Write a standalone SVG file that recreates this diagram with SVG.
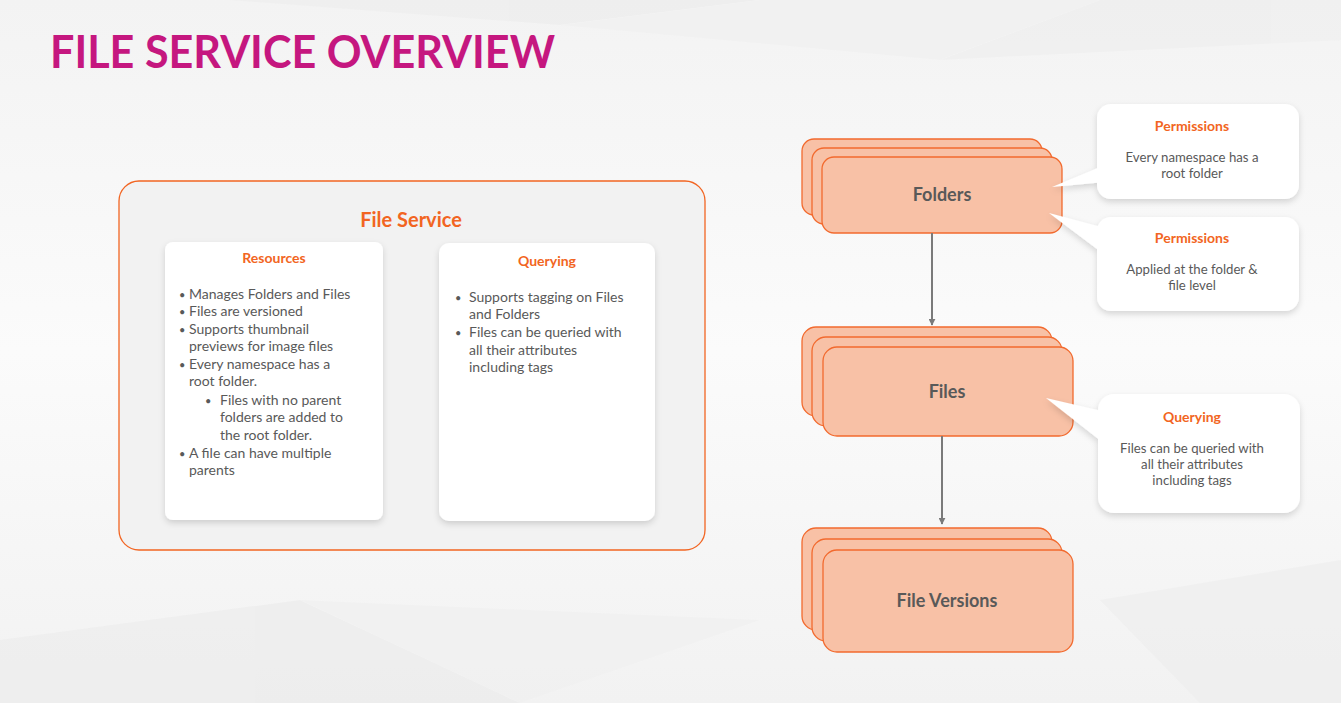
<svg xmlns="http://www.w3.org/2000/svg" width="1341" height="703" viewBox="0 0 1341 703">
<defs>
<linearGradient id="bg" x1="0" y1="0" x2="0" y2="1">
<stop offset="0" stop-color="#f3f3f3"/>
<stop offset="0.5" stop-color="#fbfbfb"/>
<stop offset="1" stop-color="#f2f2f2"/>
</linearGradient>
<filter id="sh" x="-20%" y="-20%" width="140%" height="150%">
<feDropShadow dx="0" dy="3" stdDeviation="3" flood-color="#000" flood-opacity="0.15"/>
</filter>
<marker id="arr" viewBox="0 0 10 10" refX="9" refY="5" markerWidth="3.5" markerHeight="3.5" orient="auto">
<path d="M0,0 L10,5 L0,10 z" fill="#7a7a7a"/>
</marker>
<style>
.title{font-family:Lato,"Liberation Sans",sans-serif;font-weight:bold;font-size:46px;fill:#c5177f}
.hd{font-family:Lato,"Liberation Sans",sans-serif;font-weight:bold;fill:#f26522}
.body{font-family:Lato,"Liberation Sans",sans-serif;font-size:14px;fill:#595959}
.cb{font-family:Lato,"Liberation Sans",sans-serif;font-size:13.2px;fill:#595959;text-anchor:middle}
.stk{fill:#f8c1a6;stroke:#f26a2e;stroke-width:1.3}
.lbl{font-family:Lato,"Liberation Sans",sans-serif;font-weight:bold;font-size:18px;fill:#595959;text-anchor:middle}
.card{fill:#ffffff}
.conn{stroke:#7a7a7a;stroke-width:2;fill:none}
</style>
</defs>
<rect width="1341" height="703" fill="url(#bg)"/>
<g opacity="0.6">
<polygon points="230,0 560,25 760,0" fill="#ececec"/>
<polygon points="560,25 760,0 1100,0 940,60" fill="#f0f0f0"/>
<polygon points="940,60 1100,0 1341,0 1341,40" fill="#eeeeee"/>
<polygon points="0,640 300,600 520,703 0,703" fill="#ebebeb"/>
<polygon points="300,600 760,620 520,703" fill="#f0f0f0"/>
<polygon points="1100,600 1341,560 1341,703 1200,703" fill="#ededed"/>
</g>
<text class="title" x="50" y="68" textLength="505" lengthAdjust="spacingAndGlyphs">FILE SERVICE OVERVIEW</text>

<g id="file-service">
<rect x="119" y="181" width="586" height="369" rx="20" fill="#f2f2f2" stroke="#f26522" stroke-width="1.3"/>
<text class="hd" x="411" y="227" font-size="20" text-anchor="middle">File Service</text>
</g>

<g id="resources">
<rect class="card" x="165" y="242" width="218" height="278" rx="8" filter="url(#sh)"/>
<text class="hd" x="274" y="263" font-size="14" text-anchor="middle">Resources</text>
<g class="body">
<text x="179" y="299" font-size="11">•</text><text x="189" y="299">Manages Folders and Files</text>
<text x="179" y="316" font-size="11">•</text><text x="189" y="316">Files are versioned</text>
<text x="179" y="334" font-size="11">•</text><text x="189" y="334">Supports thumbnail</text>
<text x="189" y="351">previews for image files</text>
<text x="179" y="369" font-size="11">•</text><text x="189" y="369">Every namespace has a</text>
<text x="189" y="386">root folder.</text>
<text x="205" y="405" font-size="11">•</text><text x="220" y="405">Files with no parent</text>
<text x="220" y="422">folders are added to</text>
<text x="220" y="440">the root folder.</text>
<text x="179" y="458" font-size="11">•</text><text x="189" y="458">A file can have multiple</text>
<text x="189" y="475">parents</text>
</g>
</g>

<g id="querying">
<rect class="card" x="439" y="243" width="216" height="278" rx="10" filter="url(#sh)"/>
<text class="hd" x="547" y="266" font-size="14" text-anchor="middle">Querying</text>
<g class="body">
<text x="455" y="302" font-size="11">•</text><text x="469" y="302">Supports tagging on Files</text>
<text x="469" y="319">and Folders</text>
<text x="455" y="337" font-size="11">•</text><text x="469" y="337">Files can be queried with</text>
<text x="469" y="355">all their attributes</text>
<text x="469" y="372">including tags</text>
</g>
</g>

<g id="folders">
<rect class="stk" x="802" y="139" width="240" height="76" rx="12"/>
<rect class="stk" x="812" y="148" width="240" height="76" rx="12"/>
<rect class="stk" x="822" y="157" width="240" height="76" rx="12"/>
<text class="lbl" x="942" y="201">Folders</text>
</g>

<g id="files">
<rect class="stk" x="802" y="327" width="250" height="89" rx="14"/>
<rect class="stk" x="812" y="337" width="250" height="89" rx="14"/>
<rect class="stk" x="823" y="347" width="250" height="89" rx="14"/>
<text class="lbl" x="947" y="398">Files</text>
</g>

<g id="file-versions">
<rect class="stk" x="802" y="528" width="250" height="102" rx="14"/>
<rect class="stk" x="812" y="539" width="250" height="102" rx="14"/>
<rect class="stk" x="823" y="550" width="250" height="102" rx="14"/>
<text class="lbl" x="947" y="607">File Versions</text>
</g>

<g id="connectors">
<line class="conn" x1="932" y1="233" x2="932" y2="325" marker-end="url(#arr)"/>
<line class="conn" x1="942" y1="436" x2="942" y2="524" marker-end="url(#arr)"/>
</g>

<g id="callout-permissions-1" filter="url(#sh)">
<polygon points="1052,187 1105,165 1105,182" fill="#fff"/>
<rect x="1097" y="104" width="202" height="95" rx="14" fill="#fff"/>
</g>
<g id="callout-permissions-1-text">
<text class="hd" x="1192" y="131" font-size="14" text-anchor="middle">Permissions</text>
<text class="cb" x="1192" y="162">Every namespace has a</text>
<text class="cb" x="1192" y="178">root folder</text>
</g>

<g id="callout-permissions-2" filter="url(#sh)">
<polygon points="1049,213 1105,228 1105,255" fill="#fff"/>
<rect x="1097" y="217" width="202" height="94" rx="14" fill="#fff"/>
</g>
<g id="callout-permissions-2-text">
<text class="hd" x="1192" y="243" font-size="14" text-anchor="middle">Permissions</text>
<text class="cb" x="1192" y="274">Applied at the folder &amp;</text>
<text class="cb" x="1192" y="290">file level</text>
</g>

<g id="callout-querying" filter="url(#sh)">
<polygon points="1046,398 1106,412 1106,445" fill="#fff"/>
<rect x="1098" y="394" width="202" height="119" rx="16" fill="#fff"/>
</g>
<g id="callout-querying-text">
<text class="hd" x="1192" y="422" font-size="14" text-anchor="middle">Querying</text>
<text class="cb" x="1192" y="453">Files can be queried with</text>
<text class="cb" x="1192" y="469">all their attributes</text>
<text class="cb" x="1192" y="485">including tags</text>
</g>
</svg>
